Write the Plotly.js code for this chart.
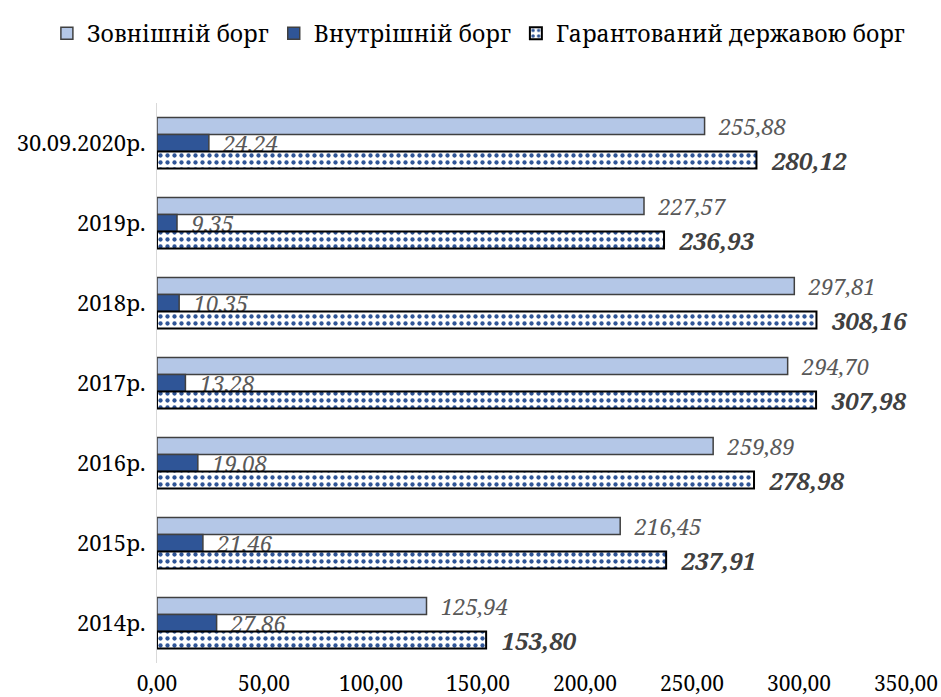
<!DOCTYPE html>
<html>
<head>
<meta charset="utf-8">
<script src="https://cdn.plot.ly/plotly-3.0.1.min.js"></script>
<style>html,body{margin:0;padding:0;background:#fff;}#chart{width:941px;height:697px;}</style>
</head>
<body>
<div id="chart"></div>
<script>
var categories = ["30.09.2020р.", "2019р.", "2018р.", "2017р.", "2016р.", "2015р.", "2014р."];
var seriesNames = ["Зовнішній борг", "Внутрішній борг", "Гарантований державою борг"];
var external = [255.88, 227.57, 297.81, 294.70, 259.89, 216.45, 125.94];
var internal = [24.24, 9.35, 10.35, 13.28, 19.08, 21.46, 27.86];
var total = [280.12, 236.93, 308.16, 307.98, 278.98, 237.91, 153.80];
var xTicks = [0, 50, 100, 150, 200, 250, 300, 350];

var serif = "Noto Serif, Liberation Serif, serif";
var gap = "\u00a0\u00a0";

var traces = [
  {
    type: "bar", orientation: "h", name: seriesNames[0],
    x: external, y: categories,
    marker: {color: "#B4C7E7", line: {color: "#404040", width: 1.5}},
    texttemplate: gap + "%{x:.2f}", textposition: "outside", constraintext: "none",
    textfont: {family: serif, size: 22, color: "#595959", style: "italic"},
    cliponaxis: false, hoverinfo: "x+name"
  },
  {
    type: "bar", orientation: "h", name: seriesNames[1],
    x: internal, y: categories,
    marker: {color: "#2F5597", line: {color: "#404040", width: 1.5}},
    texttemplate: gap + "%{x:.2f}", textposition: "outside", constraintext: "none",
    textfont: {family: serif, size: 22, color: "#595959", style: "italic"},
    cliponaxis: false, hoverinfo: "x+name"
  },
  {
    type: "bar", orientation: "h", name: seriesNames[2],
    x: total, y: categories,
    marker: {color: "#ffffff", line: {color: "#000000", width: 2},
      pattern: {shape: ".", fgcolor: "#2F5597", bgcolor: "#ffffff", size: 7, solidity: 0.3, fillmode: "replace"}},
    texttemplate: gap + "%{x:.2f}", textposition: "outside", constraintext: "none",
    textfont: {family: serif, size: 24, color: "#404040", style: "italic", weight: "bold"},
    cliponaxis: false, hoverinfo: "x+name"
  }
];

var layout = {
  width: 941, height: 697,
  margin: {l: 157, r: 35, t: 75, b: 34},
  font: {family: serif, color: "#000000"},
  paper_bgcolor: "#ffffff", plot_bgcolor: "#ffffff",
  separators: ", ",
  barmode: "group", bargap: 0.36, bargroupgap: 0,
  showlegend: true,
  legend: {
    orientation: "h", xref: "paper", yref: "paper",
    x: -0.147, xanchor: "left", y: 1.163, yanchor: "top",
    font: {family: serif, size: 23, color: "#000000"},
    traceorder: "normal", itemwidth: 30
  },
  xaxis: {
    range: [0, 350], tickvals: xTicks, tickformat: ".2f",
    showgrid: false, zeroline: false, showline: false, ticks: "",
    tickfont: {family: serif, size: 21, color: "#000000"},
    ticklabelstandoff: 6
  },
  yaxis: {
    type: "category", categoryorder: "array", categoryarray: categories,
    autorange: "reversed",
    showgrid: false, zeroline: false, showline: true, linecolor: "#d9d9d9", linewidth: 1,
    ticks: "", tickfont: {family: serif, size: 22, color: "#000000"},
    ticklabelstandoff: 6
  }
};

Plotly.newPlot("chart", traces, layout, {displayModeBar: false, staticPlot: true});
</script>
</body>
</html>
